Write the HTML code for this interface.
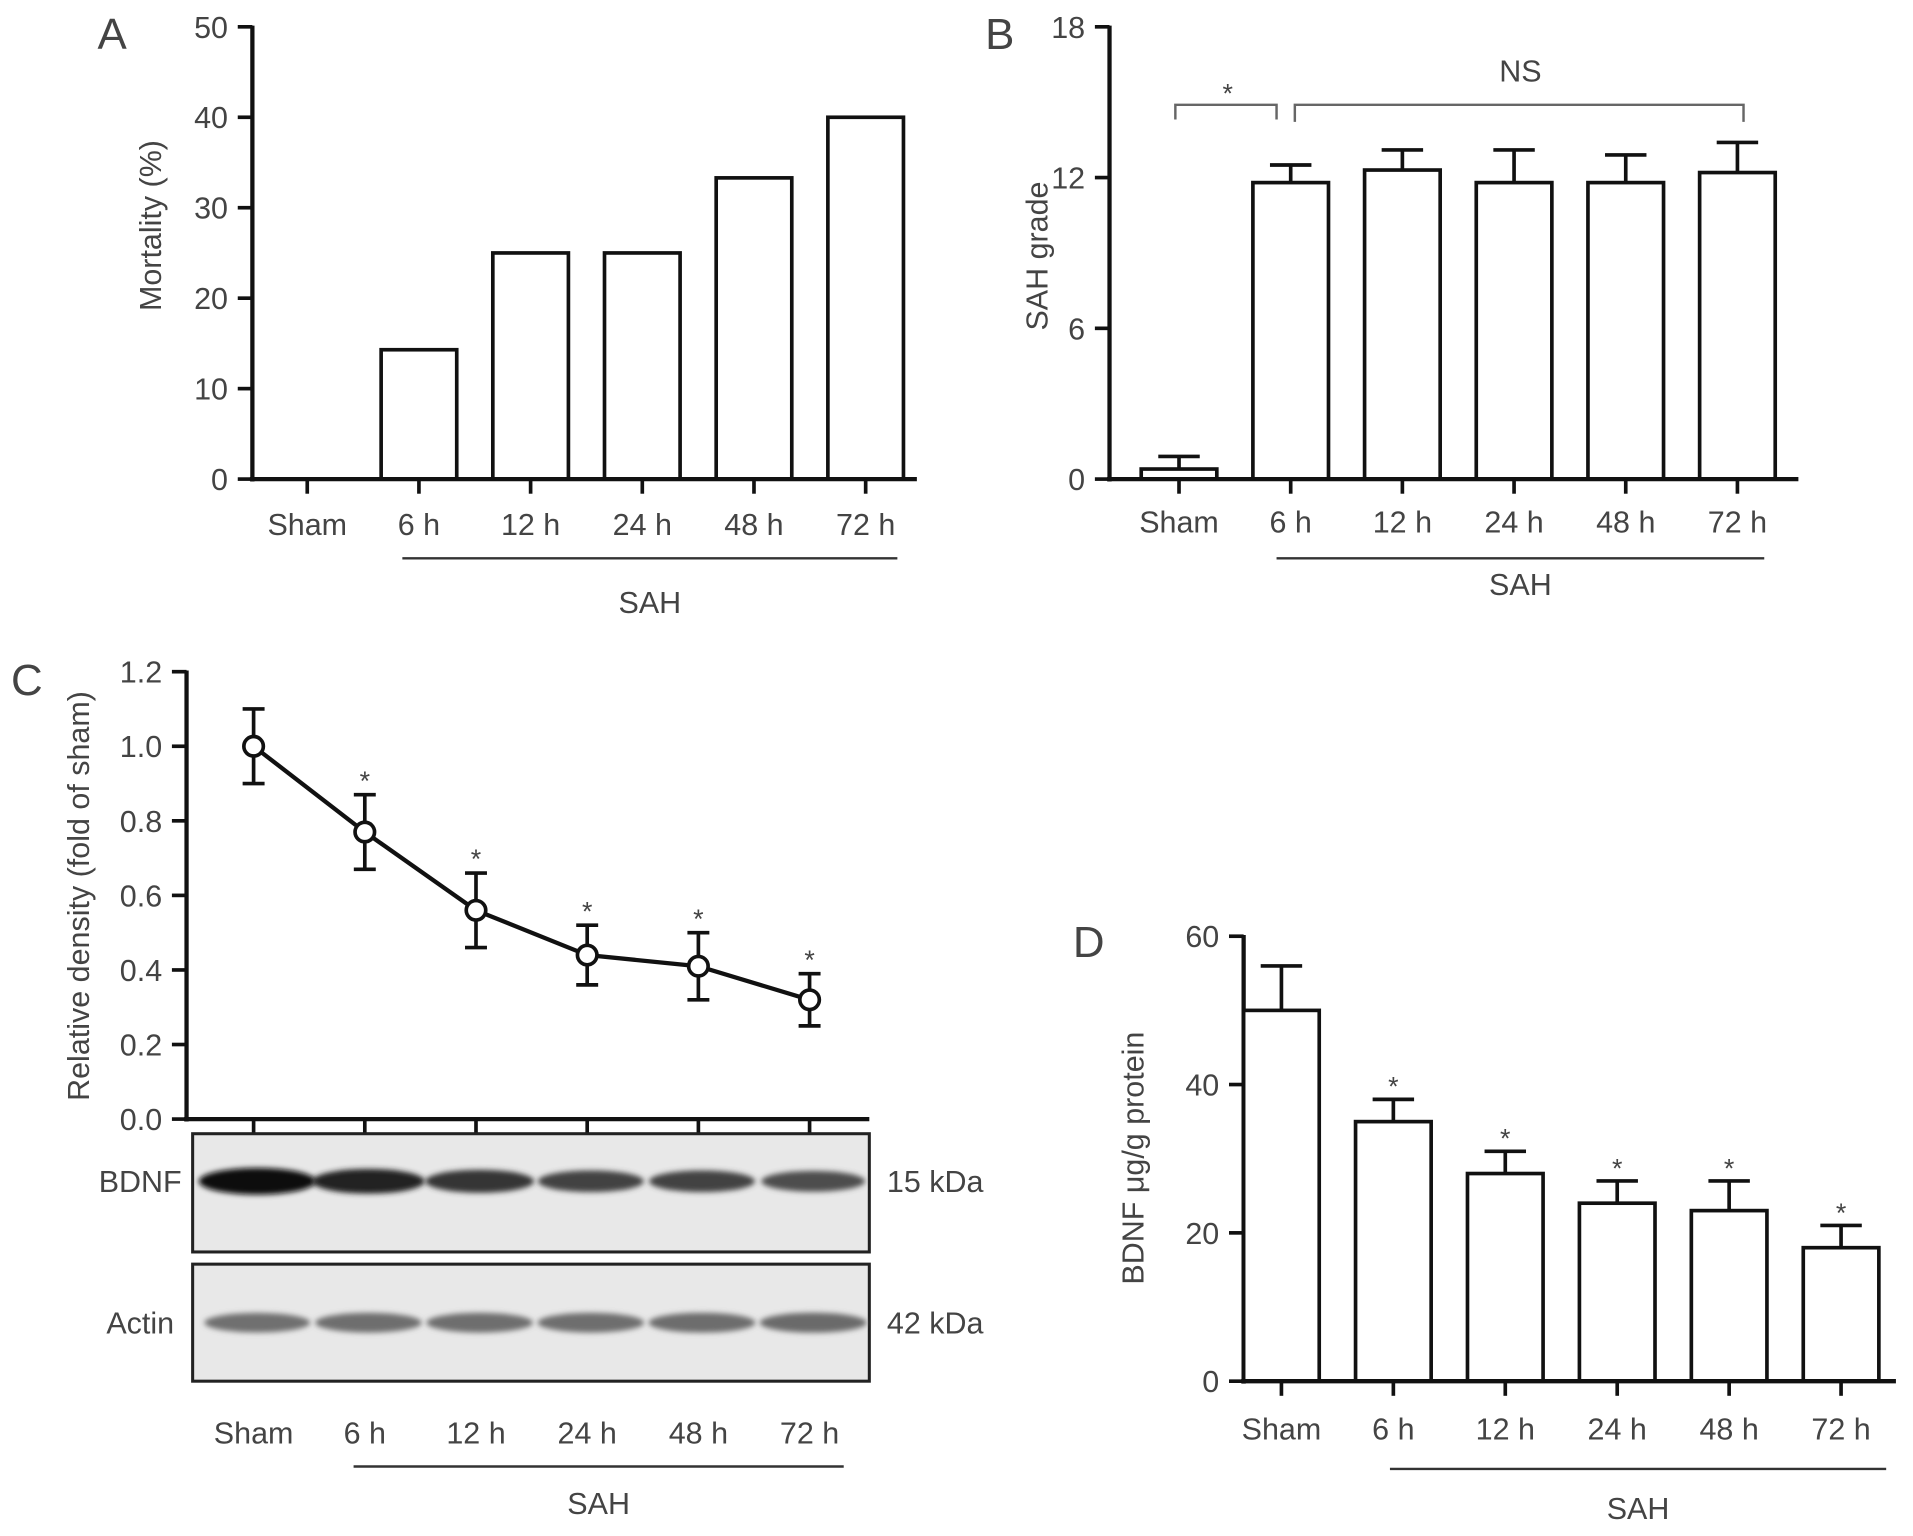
<!DOCTYPE html>
<html><head><meta charset="utf-8"><style>
html,body{margin:0;padding:0;background:#fff;}
svg{display:block;}
text{font-family:"Liberation Sans",sans-serif;fill:#444;}
</style></head><body>
<svg id="fig" width="1913" height="1536" viewBox="0 0 1569 1260" preserveAspectRatio="none" xmlns="http://www.w3.org/2000/svg">
<defs><filter id="blur" x="-20%" y="-50%" width="140%" height="200%"><feGaussianBlur stdDeviation="2.2"/></filter></defs>
</svg>
<script>
const cats=["Sham","6 h","12 h","24 h","48 h","72 h"];
const mortVals=[0,14.3,25,25,33.3,40];
const mortTicks=[0,10,20,30,40,50];
const gradeVals=[0.4,11.8,12.3,11.8,11.8,12.2];
const gradeErr=[0.5,0.7,0.8,1.3,1.1,1.2];
const gradeTicks=[0,6,12,18];
const densVals=[1.0,0.77,0.56,0.44,0.41,0.32];
const densErr=[0.1,0.1,0.1,0.08,0.09,0.07];
const densStar=[false,true,true,true,true,true];
const densTicks=[0.0,0.2,0.4,0.6,0.8,1.0,1.2];
const bdnfBand=[1.0,0.85,0.72,0.62,0.62,0.55];
const actinBand=[0.62,0.64,0.64,0.64,0.65,0.66];
const bdnfVals=[50,35,28,24,23,18];
const bdnfErr=[6,3,3,3,4,3];
const bdnfStar=[false,true,true,true,true,true];
const bdnfTicks=[0,20,40,60];

const svg=document.getElementById('fig');
const NS='http://www.w3.org/2000/svg';
function el(tag,attrs,parent){const e=document.createElementNS(NS,tag);for(const k in attrs)e.setAttribute(k,attrs[k]);(parent||svg).appendChild(e);return e;}
function txt(s,x,y,size,anchor,parent,rot){const t=el('text',{x:x,y:y,'font-size':size,'text-anchor':anchor||'middle'},parent);if(rot)t.setAttribute('transform','rotate(-90 '+x+' '+y+')');t.textContent=s;return t;}

function panel(cfg){
  const g=el('g',{});
  
  
  const y=v=>cfg.y0-(v-cfg.tmin)/(cfg.tmax-cfg.tmin)*(cfg.y0-cfg.y1);
  const x=i=>cfg.xs+i*cfg.dx;
  const L=txt(cfg.letter,cfg.lx,cfg.ly,36,'middle',g);
  
  const ya=el('line',{x1:cfg.ax,y1:cfg.y1-1,x2:cfg.ax,y2:cfg.y0+2,stroke:'#111','stroke-width':3.5},g);
  
  cfg.ticks.forEach(t=>{
    el('line',{x1:cfg.ax-12,y1:y(t),x2:cfg.ax,y2:y(t),stroke:'#111','stroke-width':3},g);
    const tl=txt(cfg.fmt?cfg.fmt(t):String(t),cfg.ax-20,y(t)+9,25,'end',g);
    
  });
  const yt=txt(cfg.ytitle,cfg.ytx,cfg.yty,25,'middle',g,true);
  
  if(cfg.bars){
    cfg.vals.forEach((v,i)=>{
      if(cfg.err){
        const top=y(v+cfg.err[i]);
        el('line',{x1:x(i),y1:y(v),x2:x(i),y2:top,stroke:'#111','stroke-width':3},g);
        el('line',{x1:x(i)-17,y1:top,x2:x(i)+17,y2:top,stroke:'#111','stroke-width':3},g);
        if(cfg.star&&cfg.star[i]){const s=txt('*',x(i),top-3,22,'middle',g);}
      }
      if(v>0){
        const r=el('rect',{x:x(i)-31,y:y(v),width:62,height:cfg.y0-y(v),fill:'#fff',stroke:'#111','stroke-width':3},g);
        
        
      }
    });
  }
  const xa=el('line',{x1:cfg.ax-2,y1:cfg.y0,x2:cfg.xend,y2:cfg.y0,stroke:'#111','stroke-width':3.5},g);
  
  cats.forEach((c,i)=>{
    el('line',{x1:x(i),y1:cfg.y0,x2:x(i),y2:cfg.y0+12,stroke:'#111','stroke-width':3},g);
    const xl=txt(c,x(i),cfg.labY,25,'middle',g);
    
  });
  const sl=el('line',{x1:cfg.s1,y1:cfg.sy,x2:cfg.s2,y2:cfg.sy,stroke:'#333','stroke-width':2},g);
  
  const st=txt('SAH',(cfg.s1+cfg.s2)/2,cfg.sty,25,'middle',g);
  
  return {g,x,y};
}

panel({name:'panel-a-mortality',letter:'A',lx:92,ly:40,ax:207,y0:393,y1:22,tmin:0,tmax:50,ticks:mortTicks,
  ytitle:'Mortality (%)',ytx:132,yty:185,bars:true,vals:mortVals,xs:252,dx:91.6,xend:752,labY:439,s1:330,s2:736,sy:458,sty:503});

panel({name:'panel-b-sah-grade',letter:'B',lx:820,ly:40,ax:910,y0:393,y1:22,tmin:0,tmax:18,ticks:gradeTicks,
  ytitle:'SAH grade',ytx:859,yty:210,bars:true,vals:gradeVals,err:gradeErr,xs:967,dx:91.6,xend:1475,labY:437,s1:1047,s2:1447,sy:458,sty:488});
const br=el('path',{d:'M964,98 V86 H1047 V98 M1062,100 V86 H1430 V100',fill:'none',stroke:'#666','stroke-width':2});

const s1=txt('*',1007,84,22,'middle');
const ns=txt('NS',1247,67,25,'middle');

const pc=panel({name:'panel-c-relative-density',letter:'C',lx:22,ly:570,ax:153,y0:918,y1:551,tmin:0,tmax:1.2,ticks:densTicks,fmt:t=>t.toFixed(1),
  ytitle:'Relative density (fold of sham)',ytx:73,yty:735,bars:false,xs:208,dx:91.2,xend:713,labY:1184,s1:290,s2:692,sy:1203,sty:1242});
let pts=densVals.map((v,i)=>pc.x(i)+','+pc.y(v)).join(' ');
const ln=el('polyline',{points:pts,fill:'none',stroke:'#111','stroke-width':3.5});

densVals.forEach((v,i)=>{
  const x=pc.x(i),lo=pc.y(v-densErr[i]),hi=pc.y(v+densErr[i]);
  el('path',{d:`M${x},${lo} V${hi} M${x-9},${lo} H${x+9} M${x-9},${hi} H${x+9}`,stroke:'#111','stroke-width':3,fill:'none'});
  const c=el('circle',{cx:x,cy:pc.y(v),r:8,fill:'#fff',stroke:'#111','stroke-width':3});
  
  if(densStar[i]){const s=txt('*',x,hi-4,22,'middle');}
});
function blot(name,y0,h,vals,bandY,bandH,label,kda,base,slope){
  const g=el('g',{});
  
  el('rect',{x:158,y:y0,width:555,height:h,fill:'#e8e8e8',stroke:'#222','stroke-width':2.5},g);
  vals.forEach((v,i)=>{
    const c=Math.round(base-slope*v);
    const b=el('ellipse',{cx:pc.x(i)+3,cy:bandY,rx:36+12*v,ry:bandH*(0.55+0.55*v),fill:'rgb('+c+','+c+','+c+')',filter:'url(#blur)'},g);
    
  });
  txt(label,115,bandY+9,25,'middle',g);
  txt(kda,767,bandY+9,25,'middle',g);
}
blot('bdnf-blot',930,97,bdnfBand,969,10,'BDNF','15 kDa',160,150);
blot('actin-blot',1037,96,actinBand,1085,9,'Actin','42 kDa',180,110);

panel({name:'panel-d-bdnf',letter:'D',lx:893,ly:785,ax:1020,y0:1133,y1:768,tmin:0,tmax:60,ticks:bdnfTicks,
  ytitle:'BDNF μg/g protein',ytx:938,yty:950,bars:true,vals:bdnfVals,err:bdnfErr,star:bdnfStar,xs:1051,dx:91.8,xend:1555,labY:1181,s1:1140,s2:1547,sy:1205,sty:1246});
</script>
</body></html>
